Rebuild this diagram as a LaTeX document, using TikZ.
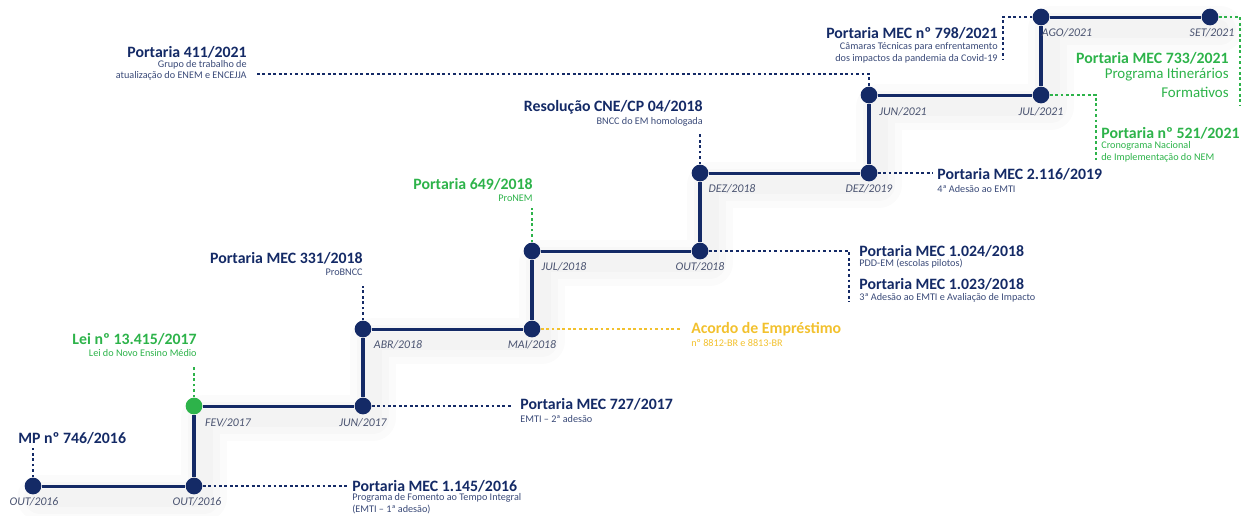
\documentclass[tikz,border=0pt]{standalone}
\usepackage{fontspec}
\setmainfont{Carlito}
\definecolor{navy}{HTML}{142A66}
\definecolor{subnavy}{HTML}{3A4A78}
\definecolor{dategray}{HTML}{4A5370}
\definecolor{mecgreen}{HTML}{2DB34A}
\definecolor{gold}{HTML}{F2C12E}
\begin{document}
\begin{tikzpicture}[x=0.02cm,y=-0.02cm,
    dot/.style={circle,fill=navy,inner sep=0pt,minimum size=9.5pt},
    rise/.style={navy,line width=2.8pt},
    run/.style={navy,line width=1.7pt},
    dots/.style={line width=1.6pt,dash pattern=on 1.6pt off 1.5pt},
    haze/.style={line join=round,line cap=round,black},
    date/.style={font=\fontsize{6.7}{7}\selectfont\itshape,text=dategray,inner sep=0pt},
    title/.style={font=\fontsize{9}{10}\selectfont\bfseries,text=navy,inner sep=0pt},
    sub/.style={font=\fontsize{5.8}{7}\selectfont,text=subnavy,inner sep=0pt}]
    \useasboundingbox (0,0) rectangle (1247,515);
    % soft shadow under the steps
    \foreach \w in {26pt,18pt,10pt}
        \draw[haze,line width=\w,opacity=0.014] plot coordinates {(40,498) (204,498) (204,418) (373,418) (373,341)
            (542,341) (542,263) (710,263) (710,185) (879,185) (879,107) (1051,107) (1051,29) (1220,29)};
    % steps of the timeline
    \node[dot] (d1) at (33,486) {};
    \node[dot] (d2) at (194,486) {};
    \node[dot,fill=mecgreen] (d3) at (194,406) {};
    \node[dot] (d4) at (363,406) {};
    \node[dot] (d5) at (363,329) {};
    \node[dot] (d6) at (532,329) {};
    \node[dot] (d7) at (532,251) {};
    \node[dot] (d8) at (700,251) {};
    \node[dot] (d9) at (700,173) {};
    \node[dot] (d10) at (869,173) {};
    \node[dot] (d11) at (869,95) {};
    \node[dot] (d12) at (1041,95) {};
    \node[dot] (d13) at (1041,17) {};
    \node[dot] (d14) at (1210,17) {};
    \foreach \a/\b in {d1/d2,d3/d4,d5/d6,d7/d8,d9/d10,d11/d12,d13/d14}
        \draw[run] (\a) -- (\b);
    \foreach \a/\b in {d2/d3,d4/d5,d6/d7,d8/d9,d10/d11,d12/d13}
        \draw[rise] (\a) -- (\b);
    % dates
    \node[date] (t1) at (34,502) {OUT/2016};
    \node[date] (t2) at (197,502) {OUT/2016};
    \node[date] (t3) at (228,423) {FEV/2017};
    \node[date] (t4) at (363,423) {JUN/2017};
    \node[date] (t5) at (398,345) {ABR/2018};
    \node[date] (t6) at (532,345) {MAI/2018};
    \node[date] (t7) at (564,267) {JUL/2018};
    \node[date] (t8) at (700,267) {OUT/2018};
    \node[date] (t9) at (732,189) {DEZ/2018};
    \node[date] (t10) at (869,189) {DEZ/2019};
    \node[date] (t11) at (903,112) {JUN/2021};
    \node[date] (t12) at (1041,112) {JUL/2021};
    \node[date] (t13) at (1067,33) {AGO/2021};
    \node[date] (t14) at (1212,33) {SET/2021};
    % MP 746
    \coordinate (c1) at (33,448);
    \draw[dots,navy] (d1) -- (c1);
    \node[title,anchor=west] (mp) at (18,438) {MP nº 746/2016};
    % Portaria 1.145
    \coordinate (c2) at (348,486);
    \draw[dots,navy] (d2) -- (c2);
    \node[title,anchor=west] (p1145) at (352,486) {Portaria MEC 1.145/2016};
    \node[sub,anchor=west] (p1145a) at (352,498) {Programa de Fomento ao Tempo Integral};
    \node[sub,anchor=west] (p1145b) at (352,509) {(EMTI – 1ª adesão)};
    % Lei 13.415
    \coordinate (c3) at (194,366);
    \draw[dots,mecgreen] (d3) -- (c3);
    \node[title,text=mecgreen,anchor=east] (lei) at (197,339) {Lei nº 13.415/2017};
    \node[sub,text=mecgreen,anchor=east] (leia) at (197,353) {Lei do Novo Ensino Médio};
    % Portaria 727
    \coordinate (c4) at (512,406);
    \draw[dots,navy] (d4) -- (c4);
    \node[title,anchor=west] (p727) at (520,404) {Portaria MEC 727/2017};
    \node[sub,anchor=west] (p727a) at (520,419) {EMTI – 2ª adesão};
    % Portaria 331
    \coordinate (c5) at (363,286);
    \draw[dots,navy] (d5) -- (c5);
    \node[title,anchor=east] (p331) at (363,258) {Portaria MEC 331/2018};
    \node[sub,anchor=east] (p331a) at (363,272) {ProBNCC};
    % Acordo de Emprestimo
    \coordinate (c6) at (682,329);
    \draw[dots,gold] (d6) -- (c6);
    \node[title,text=gold,anchor=west] (acordo) at (691,329) {Acordo de Empréstimo};
    \node[sub,text=gold,anchor=west] (acordoa) at (691,343) {nº 8812-BR e 8813-BR};
    % Portaria 649
    \coordinate (c7) at (532,208);
    \draw[dots,mecgreen] (d7) -- (c7);
    \node[title,text=mecgreen,anchor=east] (p649) at (533,184) {Portaria 649/2018};
    \node[sub,text=mecgreen,anchor=east] (p649a) at (533,198) {ProNEM};
    % Portarias 1.024 e 1.023
    \coordinate (c8) at (849,251);
    \coordinate (c8b) at (849,302);
    \draw[dots,navy] (d8) -- (c8) -- (c8b);
    \node[title,anchor=west] (p1024) at (859,251) {Portaria MEC 1.024/2018};
    \node[sub,anchor=west] (p1024a) at (859,264) {PDD-EM (escolas pilotos)};
    \node[title,anchor=west] (p1023) at (859,284) {Portaria MEC 1.023/2018};
    \node[sub,anchor=west] (p1023a) at (859,298) {3ª Adesão ao EMTI e Avaliação de Impacto};
    % Resolucao CNE/CP
    \coordinate (c9) at (700,132);
    \draw[dots,navy] (d9) -- (c9);
    \node[title,anchor=east] (cne) at (703,107) {Resolução CNE/CP 04/2018};
    \node[sub,anchor=east] (cnea) at (703,122) {BNCC do EM homologada};
    % Portaria 2.116
    \coordinate (c10) at (933,173);
    \draw[dots,navy] (d10) -- (c10);
    \node[title,anchor=west] (p2116) at (937,174) {Portaria MEC 2.116/2019};
    \node[sub,anchor=west] (p2116a) at (937,189) {4ª Adesão ao EMTI};
    % Portaria 411
    \coordinate (c11) at (257,74);
    \coordinate (c11b) at (869,74);
    \draw[dots,navy] (c11) -- (c11b) -- (d11);
    \node[title,anchor=east] (p411) at (247,52) {Portaria 411/2021};
    \node[sub,anchor=east] (p411a) at (247,65) {Grupo de trabalho de};
    \node[sub,anchor=east] (p411b) at (247,76) {atualização do ENEM e ENCEJJA};
    % Portaria 798
    \coordinate (c13) at (1003,17);
    \coordinate (c13b) at (1003,60);
    \draw[dots,navy] (d13) -- (c13) -- (c13b);
    \node[title,anchor=east] (p798) at (998,33) {Portaria MEC nº 798/2021};
    \node[sub,anchor=east] (p798a) at (998,47) {Câmaras Técnicas para enfrentamento};
    \node[sub,anchor=east] (p798b) at (998,59) {dos impactos da pandemia da Covid-19};
    % Portaria 733
    \coordinate (c14) at (1240,17);
    \coordinate (c14b) at (1240,106);
    \draw[dots,mecgreen] (d14) -- (c14) -- (c14b);
    \node[title,text=mecgreen,anchor=east] (p733) at (1229,58) {Portaria MEC 733/2021};
    \node[font=\fontsize{8.5}{10}\selectfont,text=mecgreen,inner sep=0pt,anchor=east] (p733a) at (1229,75) {Programa Itinerários};
    \node[font=\fontsize{8.5}{10}\selectfont,text=mecgreen,inner sep=0pt,anchor=east] (p733b) at (1229,92) {Formativos};
    % Portaria 521
    \coordinate (c12) at (1096,95);
    \coordinate (c12b) at (1096,160);
    \draw[dots,mecgreen] (d12) -- (c12) -- (c12b);
    \node[title,text=mecgreen,anchor=west] (p521) at (1101,133) {Portaria nº 521/2021};
    \node[sub,text=mecgreen,anchor=west] (p521a) at (1101,146) {Cronograma Nacional};
    \node[sub,text=mecgreen,anchor=west] (p521b) at (1101,158) {de Implementação do NEM};
\end{tikzpicture}
\end{document}
